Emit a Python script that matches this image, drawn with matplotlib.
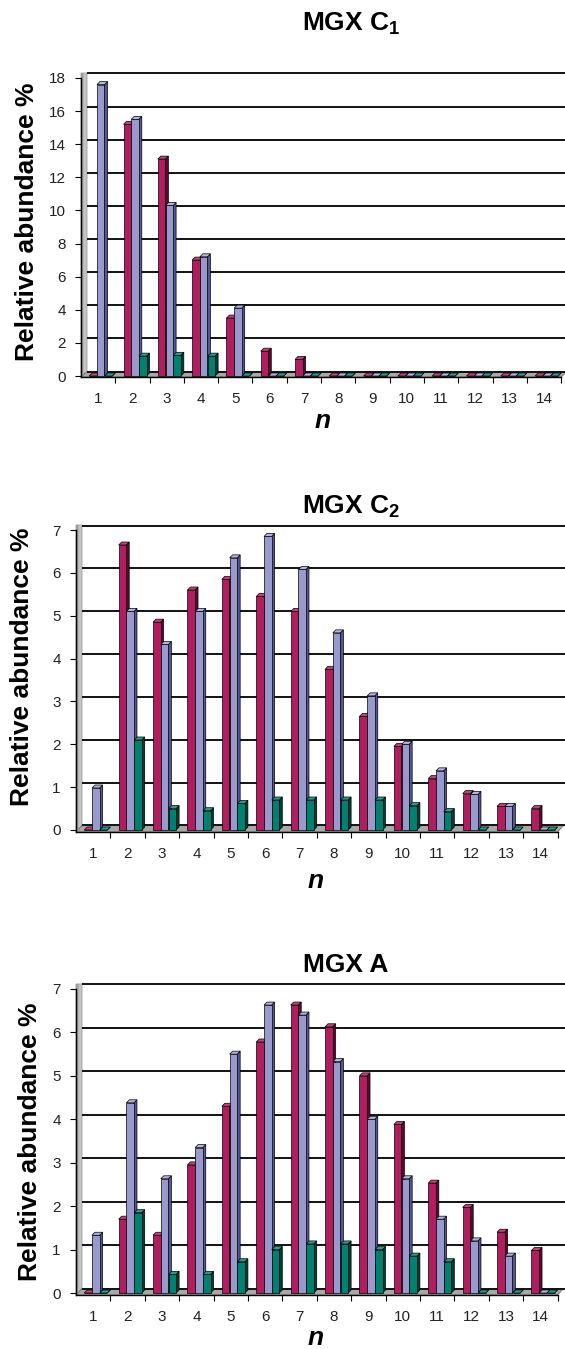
import matplotlib
matplotlib.use("Agg")
import matplotlib.pyplot as plt
from matplotlib.patches import Polygon
import numpy as np

plt.rcParams['font.family'] = ['Liberation Sans', 'DejaVu Sans']
plt.rcParams['mathtext.fontset'] = 'custom'
plt.rcParams['mathtext.rm'] = 'Liberation Sans'
plt.rcParams['mathtext.bf'] = 'Liberation Sans:bold'
plt.rcParams['mathtext.it'] = 'Liberation Sans:italic'

categories = list(range(1, 15))

titles = ["MGX C$_\\mathbf{1}$", "MGX C$_\\mathbf{2}$", "MGX A"]

c1_magenta = [0, 15.2, 13.1, 7.0, 3.5, 1.5, 1.0, 0, 0, 0, 0, 0, 0, 0]
c1_lavender = [17.6, 15.5, 10.3, 7.2, 4.1, 0, 0, 0, 0, 0, 0, 0, 0, 0]
c1_teal = [0, 1.2, 1.25, 1.2, 0, 0, 0, 0, 0, 0, 0, 0, 0, 0]

c2_magenta = [0, 6.65, 4.85, 5.6, 5.85, 5.45, 5.1, 3.75, 2.65, 1.95, 1.2, 0.85, 0.55, 0.5]
c2_lavender = [0.98, 5.1, 4.33, 5.1, 6.35, 6.85, 6.08, 4.6, 3.13, 2.0, 1.38, 0.83, 0.55, 0]
c2_teal = [0, 2.1, 0.5, 0.45, 0.62, 0.7, 0.7, 0.7, 0.7, 0.57, 0.43, 0, 0, 0]

a_magenta = [0, 1.7, 1.33, 2.95, 4.3, 5.78, 6.63, 6.13, 5.0, 3.88, 2.53, 1.97, 1.4, 0.98]
a_lavender = [1.33, 4.38, 2.63, 3.35, 5.5, 6.63, 6.4, 5.33, 4.0, 2.63, 1.7, 1.2, 0.85, 0]
a_teal = [0, 1.85, 0.43, 0.43, 0.72, 1.0, 1.13, 1.13, 1.0, 0.85, 0.72, 0, 0, 0]

panels_data = [
    (c1_magenta, c1_lavender, c1_teal),
    (c2_magenta, c2_lavender, c2_teal),
    (a_magenta, a_lavender, a_teal),
]
yticks_list = [np.arange(0, 19, 2), np.arange(0, 8, 1), np.arange(0, 8, 1)]

# colors: front, side, top
col_mag = ('#B01E5F', '#60082F', '#C8407A')
col_lav = ('#9999CC', '#55559A', '#B4B4E2')
col_teal = ('#00806F', '#003E36', '#20A090')
series_colors = [col_mag, col_lav, col_teal]

W, H = 565, 1349
fig = plt.figure(figsize=(W / 100, H / 100), dpi=100)

layouts = [
    dict(left=81, top=73, bottom=377, ylim=(-0.06, 18.3), pxcat=34.3),
    dict(left=76, top=525, bottom=832, ylim=(-0.047, 7.117), pxcat=34.4),
    dict(left=76, top=984, bottom=1295, ylim=(-0.046, 7.115), pxcat=34.4),
]
title_pos = [(351, 24), (351, 507), (346, 965)]
ylabel_pos = [(27, 222), (22, 667), (30, 1142)]
nlabel_pos = [(323, 421), (316, 881), (316, 1338)]

offsets = [-0.15, 0.075, 0.30]
bw = 0.22

for p in range(3):
    L = layouts[p]
    ax = fig.add_axes([L['left'] / W, 1 - L['bottom'] / H,
                       (W - L['left']) / W, (L['bottom'] - L['top']) / H])
    y0, y1 = L['ylim']
    pxu = (L['bottom'] - L['top']) / (y1 - y0)
    pxc = L['pxcat']
    xmax = 0.5 + (W - L['left']) / pxc
    ax.set_xlim(0.5, xmax)
    ax.set_ylim(y0, y1)

    dx = 3 / pxc
    dy = 3 / pxu
    wdx = 6 / pxc
    wdy = 4.5 / pxu

    # left wall
    ax.add_patch(Polygon([(0.5, y0), (0.5 + wdx, wdy), (0.5 + wdx, y1), (0.5, y1)],
                         closed=True, facecolor='#C4C4C4', edgecolor='#A0A0A0',
                         lw=0.6, zorder=1, clip_on=False))
    ax.add_patch(Polygon([(0.5, y0), (0.5 + wdx * 0.4, y0 + wdy * 0.4),
                          (0.5 + wdx * 0.4, y1), (0.5, y1)],
                         closed=True, facecolor='#9C9C9C', edgecolor='none',
                         zorder=1.1, clip_on=False))
    # floor
    ax.add_patch(Polygon([(0.5, y0), (14.5, y0), (14.5 + wdx, wdy), (0.5 + wdx, wdy)],
                         closed=True, facecolor='#A8A8A8', edgecolor='#707070',
                         lw=0.6, zorder=1, clip_on=False))
    # gridlines on back wall
    for v in yticks_list[p]:
        ax.plot([0.5 + wdx, xmax], [v + wdy, v + wdy], color='#111111', lw=1.4,
                zorder=1.5, clip_on=False, solid_capstyle='butt')

    z = 3
    for i, cat in enumerate(categories):
        for s in range(3):
            v = panels_data[p][s][i]
            front, side, top = series_colors[s]
            xc = cat + offsets[s]
            xl, xr = xc - bw / 2, xc + bw / 2
            ax.add_patch(Polygon([(xr, 0), (xr + dx, dy), (xr + dx, v + dy), (xr, v)],
                                 closed=True, facecolor=side, edgecolor='black',
                                 lw=0.5, zorder=z))
            ax.add_patch(Polygon([(xl, v), (xl + dx, v + dy), (xr + dx, v + dy), (xr, v)],
                                 closed=True, facecolor=top, edgecolor='black',
                                 lw=0.5, zorder=z))
            ax.bar([xc], [v], width=bw, color=front, edgecolor='black',
                   linewidth=0.5, zorder=z + 0.5)
            z += 1

    for sp in ['top', 'right']:
        ax.spines[sp].set_visible(False)
    ax.spines['left'].set_color('black')
    ax.spines['bottom'].set_color('black')
    ax.spines['left'].set_linewidth(1.0)
    ax.spines['bottom'].set_linewidth(1.0)
    ax.spines['left'].set_bounds(y0, yticks_list[p][-1])
    ax.spines['bottom'].set_bounds(0.5, 14.5)
    ax.set_yticks(yticks_list[p])
    ax.set_yticklabels([str(v) for v in yticks_list[p]], fontsize=11, color='#222222')
    ax.tick_params(axis='y', direction='out', length=4, width=0.8, pad=7)
    ax.set_xticks(categories)
    ax.set_xticklabels([str(c) for c in categories], fontsize=11, color='#222222')
    ax.tick_params(axis='x', which='major', length=0, pad=11)
    ax.set_xticks(np.arange(1.5, 15, 1), minor=True)
    ax.tick_params(axis='x', which='minor', direction='out', length=4, width=0.8)
    ax.patch.set_alpha(0)

    tx, ty = title_pos[p]
    fig.text(tx / W, 1 - ty / H, titles[p], fontsize=19, fontweight='bold',
             ha='center', va='center')
    lx, ly = ylabel_pos[p]
    fig.text(lx / W, 1 - ly / H, 'Relative abundance %', fontsize=19,
             fontweight='bold', rotation=90, ha='center', va='center')
    nx, ny = nlabel_pos[p]
    fig.text(nx / W, 1 - ny / H, 'n', fontsize=19, fontweight='bold',
             style='italic', ha='center', va='center')

fig.savefig('out.png', dpi=100, facecolor='white')
